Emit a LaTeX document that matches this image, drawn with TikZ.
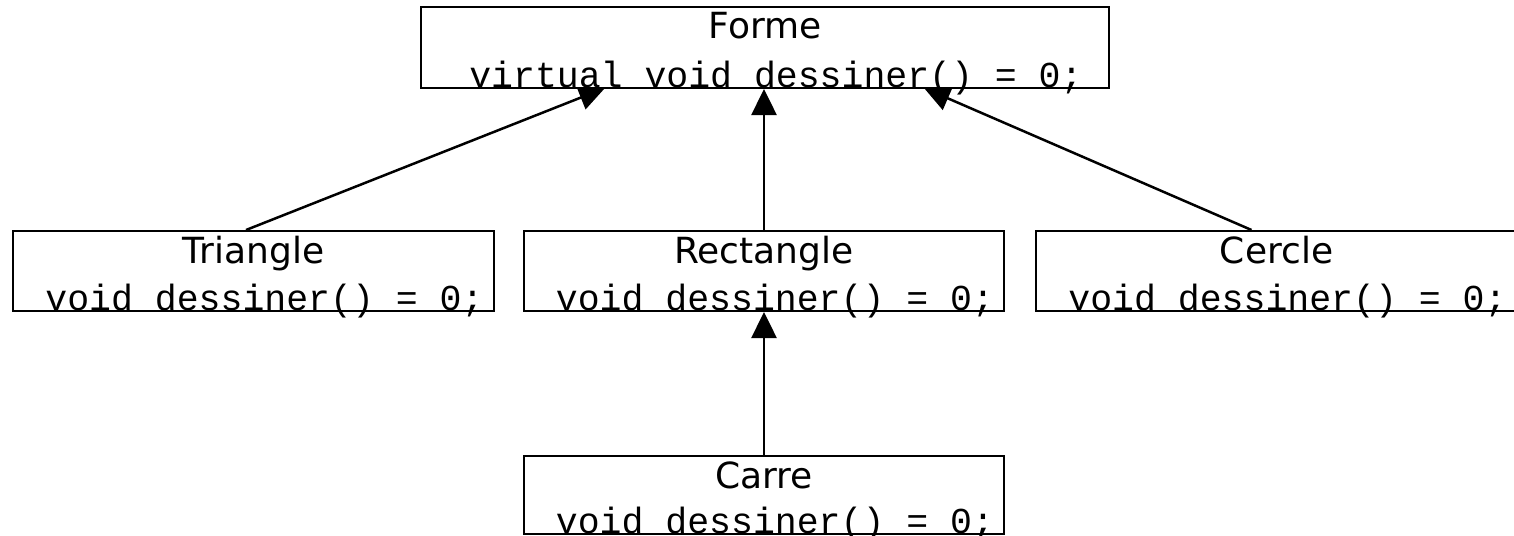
\documentclass[tikz,border=0pt]{standalone}
\usepackage{fontspec}
\setsansfont{DejaVu Sans}
\newfontfamily\codefont{Liberation Mono}
\usetikzlibrary{arrows.meta}
\pgfdeclarelayer{back}
\pgfsetlayers{back,main}
\begin{document}
\begin{tikzpicture}[x=1pt,y=-1pt,
  classbox/.style={draw, line width=2pt, fill=white, rectangle, inner sep=0pt, anchor=north west},
  classname/.style={font=\sffamily\fontsize{36}{40}\selectfont, anchor=base, inner sep=0pt},
  method/.style={font=\codefont\fontsize{36.5}{40}\selectfont, anchor=base, inner sep=0pt},
  inherits/.style={line width=2.5pt, -{Triangle[length=26pt,width=25pt]}}]
  \useasboundingbox (0,0) rectangle (1514,535);

  % class boxes
  \node[classbox, minimum width=688pt, minimum height=81pt] (forme) at (420,6) {};
  \node[classbox, minimum width=481pt, minimum height=80pt] (tri)   at (12,230) {};
  \node[classbox, minimum width=480pt, minimum height=80pt] (rect)  at (523,230) {};
  \node[classbox, minimum width=481pt, minimum height=80pt] (cerc)  at (1035,230) {};
  \node[classbox, minimum width=480pt, minimum height=78pt] (carre) at (523,455) {};

  % class names and methods
  \node[classname] (formeT) at ([yshift=-33pt]forme.north) {Forme};
  \node[method]    (formeM) at ([yshift=2pt]forme.south) {\ virtual void dessiner() = 0;};
  \node[classname] (triT)   at ([yshift=-33pt]tri.north) {Triangle};
  \node[method]    (triM)   at ([yshift=2pt]tri.south) {\ void dessiner() = 0;};
  \node[classname] (rectT)  at ([yshift=-33pt]rect.north) {Rectangle};
  \node[method]    (rectM)  at ([yshift=2pt]rect.south) {\ void dessiner() = 0;};
  \node[classname] (cercT)  at ([yshift=-33pt]cerc.north) {Cercle};
  \node[method]    (cercM)  at ([yshift=2pt]cerc.south) {\ void dessiner() = 0;};
  \node[classname] (carreT) at ([yshift=-33pt]carre.north) {Carre};
  \node[method]    (carreM) at ([yshift=2pt]carre.south) {\ void dessiner() = 0;};

  % inheritance arrows, drawn behind the boxes
  \begin{pgfonlayer}{back}
    \draw[inherits] ([xshift=-7.5pt]tri.north) -- ([xshift=-160pt,yshift=1pt]forme.south);
    \draw[inherits] (rect.north) -- (rect.north |- forme.south);
    \draw[inherits] ([xshift=-25pt]cerc.north) -- ([xshift=159pt,yshift=1pt]forme.south);
    \draw[inherits] (carre.north) -- (rect.south);
  \end{pgfonlayer}
\end{tikzpicture}
\end{document}
